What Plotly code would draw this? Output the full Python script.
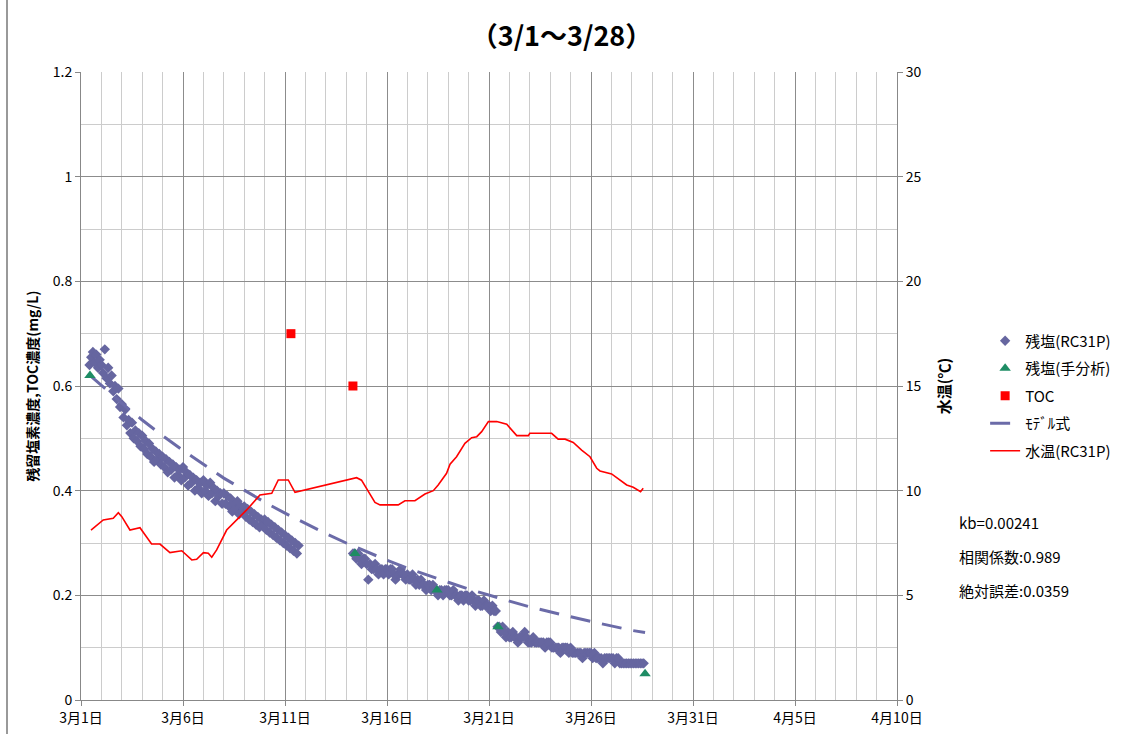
import plotly.graph_objects as go
from datetime import datetime, timedelta

# ---------------- data ----------------
YEAR = 2011
BASE = datetime(YEAR, 3, 1)

def dt(day):
    """day = fractional day of March (1.0 = 3/1 00:00)"""
    return BASE + timedelta(days=day - 1)

# 残塩(RC31P) - segment 1, every 2 hours from 3/1 10:00
rc_seg1_start = datetime(YEAR, 3, 1, 10)
rc_seg1_vals = [
    0.64, 0.655, 0.665, 0.645, 0.66, 0.635, 0.65,
    0.64, 0.625, 0.67, 0.615, 0.635, 0.605, 0.62, 0.59, 0.60, 0.575, 0.595, 0.56,
    0.565, 0.54, 0.555, 0.525, 0.535, 0.51, 0.53, 0.50, 0.515, 0.495, 0.51, 0.485,
    0.505, 0.48, 0.495, 0.47, 0.49, 0.465, 0.48, 0.455, 0.475, 0.46, 0.47, 0.45,
    0.465, 0.445, 0.46, 0.435, 0.455, 0.44, 0.45, 0.425, 0.445, 0.43, 0.44, 0.42,
    0.445, 0.425, 0.435, 0.41, 0.43, 0.415, 0.425, 0.40, 0.42, 0.405, 0.415, 0.395,
    0.42, 0.40, 0.41, 0.39, 0.415, 0.395, 0.405, 0.38, 0.40, 0.39, 0.395, 0.375,
    0.395, 0.375, 0.39, 0.37, 0.385, 0.36, 0.375, 0.365, 0.38, 0.355, 0.37, 0.36,
    0.37, 0.35, 0.365, 0.345, 0.36, 0.34, 0.355, 0.335, 0.35, 0.33, 0.345, 0.335,
    0.345, 0.325, 0.34, 0.32, 0.335, 0.315, 0.33, 0.31, 0.325, 0.305, 0.32, 0.30,
    0.315, 0.295, 0.31, 0.29, 0.305, 0.285, 0.30, 0.28, 0.295,
]
# 残塩(RC31P) - segment 2, every 2 hours from 3/14 08:00
rc_seg2_start = datetime(YEAR, 3, 14, 8)
rc_seg2_vals = [
    0.28, 0.28, 0.27, 0.28, 0.27, 0.26, 0.27, 0.27,
    0.26, 0.23, 0.26, 0.25, 0.25, 0.26, 0.25, 0.24, 0.25, 0.25, 0.24, 0.25,
    0.25, 0.24, 0.25, 0.25, 0.24, 0.23, 0.24, 0.24, 0.25, 0.24, 0.24, 0.23,
    0.24, 0.23, 0.23, 0.24, 0.23, 0.22, 0.23, 0.22, 0.23, 0.22, 0.22, 0.21,
    0.22, 0.22, 0.21, 0.22, 0.21, 0.21, 0.20, 0.21, 0.21, 0.20, 0.21, 0.21,
    0.21, 0.20, 0.20, 0.21, 0.20, 0.20, 0.19, 0.20, 0.20, 0.19, 0.20, 0.20,
    0.19, 0.19, 0.20, 0.19, 0.18, 0.19, 0.19, 0.18, 0.18, 0.19, 0.18, 0.18,
    0.18, 0.17, 0.18, 0.17, 0.17, 0.14, 0.14, 0.13, 0.14, 0.13, 0.12, 0.13,
    0.12, 0.12, 0.13, 0.12, 0.12, 0.11, 0.12, 0.12, 0.12, 0.13, 0.12, 0.11,
    0.11, 0.11, 0.12, 0.11, 0.11, 0.11, 0.11, 0.11, 0.11, 0.10, 0.11, 0.11,
    0.11, 0.10, 0.10, 0.10, 0.10, 0.10, 0.09, 0.10, 0.10, 0.10, 0.10, 0.09,
    0.10, 0.09, 0.09, 0.09, 0.09, 0.09, 0.09, 0.08, 0.09, 0.09, 0.09, 0.09,
    0.09, 0.08, 0.09, 0.08, 0.08, 0.08, 0.08, 0.07, 0.08, 0.08, 0.08, 0.08,
    0.08, 0.08, 0.07, 0.08, 0.08, 0.07, 0.07, 0.07, 0.07, 0.07, 0.07, 0.07,
    0.07, 0.07, 0.07, 0.07, 0.07, 0.07, 0.07, 0.07,
]
RC_STEP_HOURS = 2

# 残塩(手分析)
manual_days = [1.44, 14.43, 18.45, 21.44, 28.65]
manual_vals = [0.62, 0.28, 0.21, 0.14, 0.05]

# TOC
toc_days = [11.29, 14.33]
toc_vals = [0.70, 0.60]

# モデル式
model_days = [1.45, 2, 3, 4, 5, 6, 7, 8, 9, 10, 11, 12, 13, 14, 15, 16, 17, 18,
              19, 20, 21, 22, 23, 24, 25, 26, 27, 28, 28.65]
model_vals = [0.620, 0.601, 0.567, 0.535, 0.505, 0.477, 0.450, 0.424, 0.401,
              0.378, 0.357, 0.337, 0.318, 0.300, 0.283, 0.267, 0.252, 0.238,
              0.225, 0.212, 0.200, 0.189, 0.178, 0.168, 0.159, 0.150, 0.141,
              0.133, 0.129]

# 水温(RC31P)
temp_days = [1.49, 2.09, 2.58, 2.83, 3.0, 3.40, 3.89, 4.46, 4.87, 5.36, 5.94,
             6.43, 6.67, 7.0, 7.24, 7.41, 7.65, 8.14, 8.79, 9.12, 9.77, 10.35,
             10.67, 11.16, 11.49, 14.51, 14.75, 15.08, 15.41, 15.66, 16.55,
             16.88, 17.37, 17.86, 18.27, 18.51, 18.92, 19.09, 19.41, 19.82,
             20.15, 20.40, 20.64, 20.97, 21.38, 21.87, 22.36, 22.93, 23.0,
             24.07, 24.39, 24.73, 25.13, 25.54, 25.95, 26.28, 26.44, 27.01,
             27.42, 27.75, 28.07, 28.32, 28.43, 28.56]
temp_vals = [8.12, 8.60, 8.68, 8.95, 8.76, 8.12, 8.23, 7.45, 7.45, 7.04, 7.13,
             6.69, 6.72, 7.04, 7.01, 6.82, 7.17, 8.12, 8.76, 9.08, 9.79, 9.87,
             10.51, 10.51, 9.92, 10.62, 10.5, 9.95, 9.44, 9.32, 9.32,
             9.52, 9.52, 9.84, 10.0, 10.27, 10.83, 11.26, 11.62, 12.26,
             12.53, 12.58, 12.82, 13.3, 13.3, 13.17, 12.63, 12.63, 12.74,
             12.74, 12.46, 12.46, 12.3, 11.94, 11.62, 11.07, 10.94, 10.8,
             10.51, 10.27, 10.16, 10.03, 9.95, 10.11]

tick_days = [1, 6, 11, 16, 21, 26, 31, 36, 41]
tick_labels = ["3月1日", "3月6日", "3月11日", "3月16日", "3月21日",
               "3月26日", "3月31日", "4月5日", "4月10日"]

stats_lines = ["kb=0.00241", "相関係数:0.989", "絶対誤差:0.0359"]

# ---------------- build ----------------
FONT = "Noto Sans CJK JP, Noto Sans, sans-serif"
C_RC = "#6666A0"
C_MODEL = "#6B6BA8"
C_TRI = "#1E8C64"
C_RED = "#FF0000"

rc_x = [rc_seg1_start + timedelta(hours=RC_STEP_HOURS * i) for i in range(len(rc_seg1_vals))]
rc_x += [None]
rc_x += [rc_seg2_start + timedelta(hours=RC_STEP_HOURS * i) for i in range(len(rc_seg2_vals))]
rc_y = rc_seg1_vals + [None] + rc_seg2_vals

fig = go.Figure()

fig.add_trace(go.Scatter(
    x=rc_x, y=rc_y, mode="markers", name="残塩(RC31P)",
    marker=dict(symbol="diamond", size=8, color=C_RC, line=dict(width=0)),
    legendrank=1, legendgroup="a"))

fig.add_trace(go.Scatter(
    x=[dt(d) for d in model_days], y=model_vals, mode="lines", name="ﾓﾃﾞﾙ式",
    line=dict(color=C_MODEL, width=3, dash="20px,12px"),
    legendrank=4, legendgroup="d"))

fig.add_trace(go.Scatter(
    x=[dt(d) for d in manual_days], y=manual_vals, mode="markers", name="残塩(手分析)",
    marker=dict(symbol="triangle-up", size=10, color=C_TRI, line=dict(width=0)),
    legendrank=2, legendgroup="b"))

fig.add_trace(go.Scatter(
    x=[dt(d) for d in toc_days], y=toc_vals, mode="markers", name="TOC",
    marker=dict(symbol="square", size=9, color=C_RED, line=dict(width=0)),
    legendrank=3, legendgroup="c"))

fig.add_trace(go.Scatter(
    x=[dt(d) for d in temp_days], y=temp_vals, mode="lines", name="水温(RC31P)",
    line=dict(color=C_RED, width=1.6), yaxis="y2",
    legendrank=5, legendgroup="e"))

GRID_MAJ = "#8C8C8C"
GRID_MIN = "#CCCCCC"
AX = "#888888"
TICKF = dict(size=14, family=FONT, color="black")

fig.update_layout(
    width=1123, height=734,
    margin=dict(l=81, r=226, t=72, b=34, autoexpand=False),
    paper_bgcolor="white", plot_bgcolor="white",
    font=dict(family=FONT, size=13, color="black"),
    title=dict(text="（3/1～3/28）", x=0.5, xref="container", xanchor="center",
               y=1 - 37 / 734, yref="container", yanchor="middle",
               font=dict(size=27, weight="bold", family=FONT)),
    xaxis=dict(
        type="date", automargin=False,
        range=[dt(1), dt(41)],
        tickmode="array",
        tickvals=[dt(d) for d in tick_days],
        ticktext=tick_labels,
        showgrid=True, gridcolor=GRID_MAJ, gridwidth=1,
        showline=True, linecolor=AX, linewidth=1,
        ticks="outside", ticklen=5, tickcolor=AX,
        tickfont=TICKF,
        minor=dict(tickmode="linear", tick0=dt(1), dtick=86400000,
                   showgrid=True, gridcolor=GRID_MIN, gridwidth=1, ticks=""),
        zeroline=False,
    ),
    yaxis=dict(
        automargin=False,
        range=[0, 1.2], tickmode="linear", tick0=0, dtick=0.2,
        showgrid=True, gridcolor=GRID_MAJ, gridwidth=1,
        showline=True, linecolor=AX, linewidth=1,
        ticks="outside", ticklen=5, tickcolor=AX,
        tickfont=TICKF,
        minor=dict(dtick=0.1, showgrid=True, gridcolor=GRID_MIN, ticks=""),
        zeroline=False,
        title=dict(text="残留塩素濃度,TOC濃度(mg/L)", standoff=10,
                   font=dict(size=14, weight="bold", family=FONT)),
    ),
    yaxis2=dict(
        automargin=False,
        overlaying="y", side="right", range=[0, 30],
        tickmode="linear", tick0=0, dtick=5,
        showgrid=False, zeroline=False,
        showline=True, linecolor=AX, linewidth=1,
        ticks="outside", ticklen=5, tickcolor=AX,
        tickfont=TICKF,
        title=dict(text="水温(℃)", standoff=18,
                   font=dict(size=15, weight="bold", family=FONT)),
    ),
    legend=dict(
        x=1.108, xanchor="left", y=0.598, yanchor="top",
        traceorder="grouped", tracegroupgap=5,
        font=dict(size=15, family=FONT, color="black"),
        bgcolor="rgba(0,0,0,0)", itemwidth=30,
    ),
    showlegend=True,
)

for i, s in enumerate(stats_lines):
    fig.add_annotation(
        text=s, xref="paper", yref="paper",
        x=1.073, y=0.282 - i * 0.054, xanchor="left", yanchor="middle",
        showarrow=False, font=dict(size=15, family=FONT, color="black"))

# chart frame (left border)
fig.add_shape(type="line", xref="paper", yref="paper",
              x0=-74 / 816, x1=-74 / 816, y0=-0.1, y1=1.2,
              line=dict(color="#999999", width=2))

fig.write_html("out.html")
